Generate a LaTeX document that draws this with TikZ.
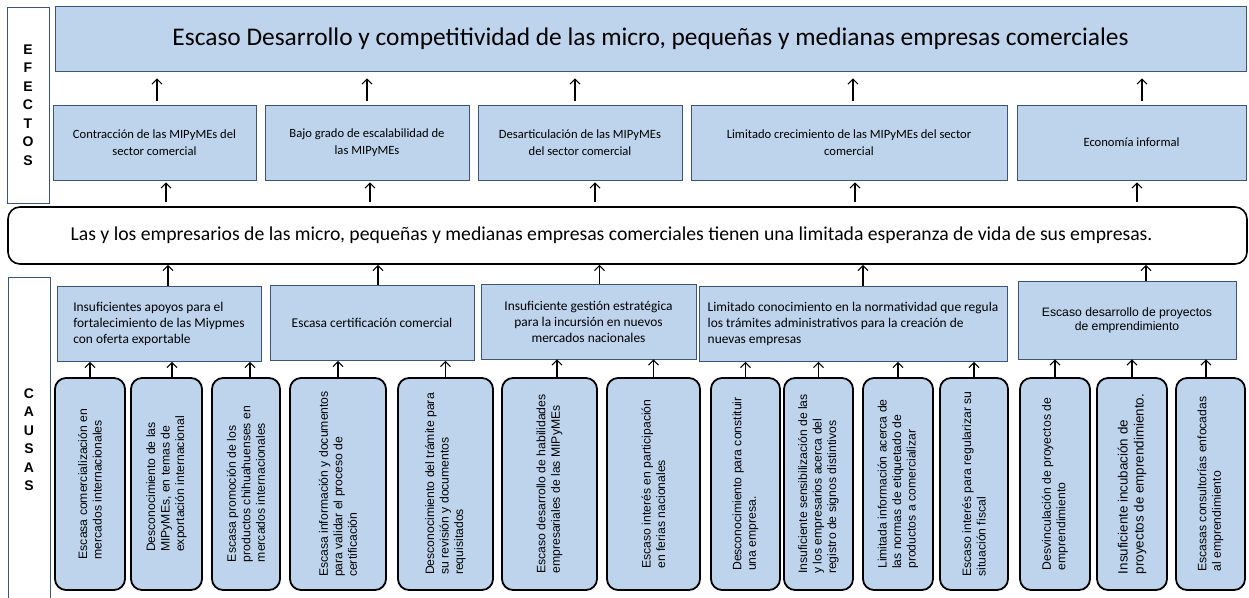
\documentclass[tikz,border=0pt]{standalone}
\usepackage{fontspec}
\setmainfont{Carlito}
\newfontfamily\arialfont{Liberation Sans}
\usetikzlibrary{arrows.meta,calc}
\definecolor{boxblue}{RGB}{189,212,236}
\definecolor{boxline}{RGB}{58,84,122}

\begin{document}
\begin{tikzpicture}[x=1pt,y=-1pt,
  sidebox/.style={draw=boxline, line width=0.8pt, fill=white, inner sep=0pt, align=center,
    font=\arialfont\bfseries\fontsize{14}{18.5}\selectfont},
  effbox/.style={draw=boxline, line width=0.8pt, fill=boxblue, minimum height=75pt, inner sep=0pt,
    align=center, font=\fontsize{12.6}{16.5}\selectfont},
  causebox/.style={draw=boxline, line width=0.8pt, fill=boxblue, minimum height=75pt, inner sep=0pt,
    align=center, font=\fontsize{13.4}{16}\selectfont},
  vbox/.style={draw=black, line width=1.8pt, rounded corners=11pt, fill=boxblue, rotate=90,
    minimum width=212pt, inner sep=0pt, align=left, font=\arialfont\fontsize{12.2}{14.5}\selectfont},
  arr/.style={-{Straight Barb[length=5pt,width=10pt]}, line width=1.1pt}
]
\useasboundingbox (0,0) rectangle (1249,597);

% side labels
\node[sidebox, minimum width=42pt, minimum height=196pt] (efectos) at (28,105) {E\\F\\E\\C\\T\\O\\S};
\node[sidebox, minimum width=42pt, minimum height=325pt] (causas) at (29,439.5) {C\\A\\U\\S\\A\\S};

% main problem and effects
\node[draw=boxline, line width=0.8pt, fill=boxblue, minimum width=1191pt, minimum height=65pt,
  font=\fontsize{25.4}{30}\selectfont] (top) at (650.5,38.5)
  {Escaso Desarrollo y competitividad de las micro, pequeñas y medianas empresas comerciales};

\node[effbox, minimum width=203pt] (e1) at (154.5,142.5) {Contracción de las MIPyMEs del\\sector comercial};
\node[effbox, minimum width=204pt] (e2) at (367,142.5) {Bajo grado de escalabilidad de\\las MIPyMEs};
\node[effbox, minimum width=204pt] (e3) at (580,142.5) {Desarticulación de las MIPyMEs\\del sector comercial};
\node[effbox, minimum width=316pt] (e4) at (849,142.5) {Limitado crecimiento de las MIPyMEs del sector\\comercial};
\node[effbox, minimum width=229pt] (e5) at (1131.5,142.5) {Economía informal};

% central problem
\node[draw, line width=1.6pt, rounded corners=12pt, fill=white, minimum width=1239pt, minimum height=57pt,
  font=\fontsize{19.7}{24}\selectfont] (mid) at (627.5,235.5)
  {Las y los empresarios de las micro, pequeñas y medianas empresas comerciales tienen una limitada esperanza de vida de sus empresas.\hspace*{32pt}};

% direct causes
\node[causebox, minimum width=204pt, align=left] (c1) at (159,324) {Insuficientes apoyos para el\\fortalecimiento de las Miypmes\\con oferta exportable};
\node[causebox, minimum width=204pt] (c2) at (372,323) {Escasa certificación comercial};
\node[causebox, minimum width=215pt] (c3) at (588.5,321.5) {Insuficiente gestión estratégica\\para la incursión en nuevos\\mercados nacionales};
\node[causebox, minimum width=308pt, align=left] (c4) at (853,324) {Limitado conocimiento en la normatividad que regula\\los trámites administrativos para la creación de\\nuevas empresas};
\node[causebox, minimum width=218pt, minimum height=78pt, font=\arialfont\fontsize{12.2}{14}\selectfont] (c5) at (1127,320) {Escaso desarrollo de proyectos\\de emprendimiento};

% root causes
\node[vbox, minimum height=70pt] (v1) at (90,484) {Escasa comercialización en\\mercados internacionales};
\node[vbox, minimum height=71pt] (v2) at (166.5,484) {Desconocimiento de las\\MIPyMEs, en temas de\\exportación internacional};
\node[vbox, minimum height=68pt] (v3) at (246,484) {Escasa promoción de los\\productos chihuahuenses en\\mercados internacionales};
\node[vbox, minimum height=96pt] (v4) at (338,484) {Escasa información y documentos\\para validar el proceso de\\certificación};
\node[vbox, minimum height=95pt] (v5) at (445.5,484) {Desconocimiento del trámite para\\su revisión y documentos\\requisitados};
\node[vbox, minimum height=95pt] (v6) at (549.5,484) {Escaso desarrollo de habilidades\\empresariales de las MIPyMEs};
\node[vbox, minimum height=93pt] (v7) at (653.5,484) {Escaso interés en participación\\en ferias nacionales};
\node[vbox, minimum height=69pt] (v8) at (745.5,484) {Desconocimiento para constituir\\una empresa.};
\node[vbox, minimum height=69pt] (v9) at (818.5,484) {Insuficiente sensibilización de las\\y los empresarios acerca del\\registro de signos distintivos};
\node[vbox, minimum height=70pt] (v10) at (898,484) {Limitada información acerca de\\las normas de etiquetado de\\productos a comercializar};
\node[vbox, minimum height=68pt] (v11) at (974,484) {Escaso interés para regularizar su\\situación fiscal};
\node[vbox, minimum height=70pt] (v12) at (1055,484) {Desvinculación de proyectos de\\emprendimiento};
\node[vbox, minimum height=70pt, font=\arialfont\fontsize{13.4}{16}\selectfont] (v13) at (1132,484) {Insuficiente incubación de\\proyectos de emprendimiento.};
\node[vbox, minimum height=69pt] (v14) at (1210.5,484) {Escasas consultorías enfocadas\\al emprendimiento};

% effects -> main problem
\draw[arr, shorten <=4pt, shorten >=7pt] ($(e1.north)+(2.5,0)$) -- ($(e1.north |- top.south)+(2.5,0)$);
\draw[arr, shorten <=4pt, shorten >=7pt] (e2.north) -- (e2.north |- top.south);
\draw[arr, shorten <=4pt, shorten >=7pt] ($(e3.north)+(-5,0)$) -- ($(e3.north |- top.south)+(-5,0)$);
\draw[arr, shorten <=4pt, shorten >=7pt] ($(e4.north)+(4,0)$) -- ($(e4.north |- top.south)+(4,0)$);
\draw[arr, shorten <=4pt, shorten >=7pt] ($(e5.north)+(10.5,0)$) -- ($(e5.north |- top.south)+(10.5,0)$);

% central problem -> effects
\draw[arr, shorten <=4pt, shorten >=2pt] ($(e1.south |- mid.north)+(11.5,0)$) -- ($(e1.south)+(11.5,0)$);
\draw[arr, shorten <=4pt, shorten >=2pt] ($(e2.south |- mid.north)+(3,0)$) -- ($(e2.south)+(3,0)$);
\draw[arr, shorten <=4pt, shorten >=2pt] ($(e3.south |- mid.north)+(15,0)$) -- ($(e3.south)+(15,0)$);
\draw[arr, shorten <=4pt, shorten >=2pt] ($(e4.south |- mid.north)+(6,0)$) -- ($(e4.south)+(6,0)$);
\draw[arr, shorten <=4pt, shorten >=2pt] ($(e5.south |- mid.north)+(5.5,0)$) -- ($(e5.south)+(5.5,0)$);

% causes -> central problem
\draw[arr] ($(c1.north)+(9,0)$) -- ($(c1.north |- mid.south)+(9,0)$);
\draw[arr] ($(c2.north)+(6,0)$) -- ($(c2.north |- mid.south)+(6,0)$);
\draw[arr] ($(c3.north)+(11,0)$) -- ($(c3.north |- mid.south)+(11,0)$);
\draw[arr] ($(c4.north)+(10,0)$) -- ($(c4.north |- mid.south)+(10,0)$);
\draw[arr] ($(c5.north)+(19,0)$) -- ($(c5.north |- mid.south)+(19,0)$);

% root causes -> causes
\draw[arr] (v1.east) -- (v1.east |- c1.south);
\draw[arr] ($(v2.east)+(5.5,0)$) -- ($(v2.east |- c1.south)+(5.5,0)$);
\draw[arr] ($(v3.east)+(4,0)$) -- ($(v3.east |- c1.south)+(4,0)$);
\draw[arr] (v4.east) -- (v4.east |- c2.south);
\draw[arr] (v5.east) -- (v5.east |- c2.south);
\draw[arr] ($(v6.east)+(7.5,0)$) -- ($(v6.east |- c3.south)+(7.5,0)$);
\draw[arr] (v7.east) -- (v7.east |- c3.south);
\draw[arr] (v8.east) -- (v8.east |- c4.south);
\draw[arr] (v9.east) -- (v9.east |- c4.south);
\draw[arr] (v10.east) -- (v10.east |- c4.south);
\draw[arr] (v11.east) -- (v11.east |- c4.south);
\draw[arr] (v12.east) -- (v12.east |- c5.south);
\draw[arr] (v13.east) -- (v13.east |- c5.south);
\draw[arr] ($(v14.east)+(-4.5,0)$) -- ($(v14.east |- c5.south)+(-4.5,0)$);
\end{tikzpicture}
\end{document}
